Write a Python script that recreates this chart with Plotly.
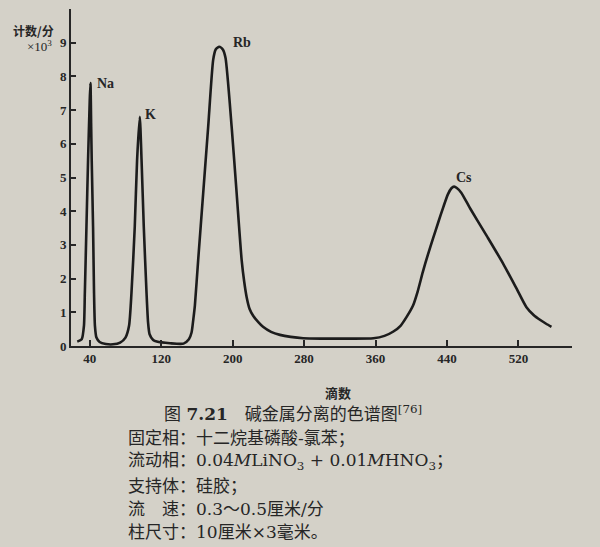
import plotly.graph_objects as go

# Elution curve: drop number vs. count rate (x10^3 counts/min)
drops = [26, 31, 33.5, 34.5, 36.3, 38.1, 40, 40.8, 41.6, 42.2, 43.7, 44.8, 45.8, 47.5, 51, 58, 66, 74,
         80, 84, 86.7, 90.4, 93, 96, 98, 100.5, 103.6, 105.3, 107, 111, 115, 130, 145, 151, 154,
         156, 157.7, 161.4, 167, 172.6, 178.2, 181, 185, 189, 192, 198.9, 204.5, 210.1, 213,
         215.7, 219, 223, 229, 234, 243, 253, 265, 279, 300, 330, 357.6, 370, 380, 388, 395,
         402, 407, 413, 418.5, 424.5, 430, 436, 441, 445, 448, 451, 456, 466, 484.7,
         503, 518, 529, 537, 544.5, 551, 557]
counts = [0.13, 0.2, 0.6, 1.57, 3.54, 5.52, 7.3, 7.8, 6.5, 5.5, 3.54, 1.57, 0.6, 0.25, 0.12, 0.06, 0.05, 0.1,
          0.25, 0.6, 1.57, 3.54, 5.52, 6.8, 5.52, 3.54, 1.56, 0.7, 0.35, 0.18, 0.13, 0.08, 0.07, 0.2, 0.4,
          0.8, 1.2, 2.55, 4.53, 6.5, 8.49, 8.8, 8.88, 8.8, 8.55, 6.5, 4.53, 2.55, 1.9,
          1.45, 1.1, 0.9, 0.7, 0.57, 0.42, 0.33, 0.27, 0.23, 0.22, 0.22, 0.23, 0.3, 0.43, 0.6, 0.87,
          1.2, 1.6, 2.2, 2.7, 3.2, 3.65, 4.13, 4.5, 4.68, 4.73, 4.69, 4.55, 4.08, 3.26,
          2.44, 1.7, 1.15, 0.92, 0.77, 0.66, 0.57]

peak_names = ["Na", "K", "Rb", "Cs"]
peak_drops = [40.8, 96, 185, 448]
peak_counts = [7.8, 6.8, 8.88, 4.73]

x_ticks = [40, 120, 200, 280, 360, 440, 520]
y_ticks = [0, 1, 2, 3, 4, 5, 6, 7, 8, 9]

caption_title = "图 <b>7.21</b>\u2003碱金属分离的色谱图<sup>[76]</sup>"
caption_lines = [
    "固定相：十二烷基磷酸-氯苯；",
    "流动相：0.04<i>M</i>LiNO<sub>3</sub> + 0.01<i>M</i>HNO<sub>3</sub>；",
    "支持体：硅胶；",
    "流\u3000速：0.3～0.5厘米/分",
    "柱尺寸：10厘米×3毫米。",
]

W, H = 600, 547
ML, MR, MT, MB = 71, 28, 9, 201
PW, PH = W - ML - MR, H - MT - MB

INK = "#262626"
PAPER = "#d4d1c8"
SERIF = "Liberation Serif, Noto Sans CJK SC, serif"
BODY = "DejaVu Serif, Noto Sans CJK SC, serif"
CJK = "Noto Sans CJK SC, sans-serif"


def px(x):
    return (x - ML) / PW


def py(y):
    return (H - MB - y) / PH


fig = go.Figure()
fig.add_trace(go.Scatter(
    x=drops, y=counts, mode="lines",
    line=dict(color="#1c1c1c", width=2.6, shape="spline", smoothing=0.6),
    hoverinfo="skip", showlegend=False,
))

annotations = []
shifts = {"Na": ("left", 5, 0), "K": ("left", 3, 2), "Rb": ("left", 12, 4), "Cs": ("center", 10, 9)}
for name, xv, yv in zip(peak_names, peak_drops, peak_counts):
    anchor, dx, dy = shifts[name]
    annotations.append(dict(
        x=xv, y=yv, xref="x", yref="y", text=name, showarrow=False,
        xanchor=anchor, yanchor="middle", xshift=dx, yshift=dy,
        font=dict(family=SERIF, size=14, color=INK, weight="bold"),
    ))

# axis titles
annotations.append(dict(x=px(56), y=py(30), xref="paper", yref="paper", text="计数/分",
                        showarrow=False, xanchor="right", yanchor="middle",
                        font=dict(family=CJK, size=12, color=INK, weight="bold")))
annotations.append(dict(x=px(54), y=py(46), xref="paper", yref="paper", text="×10<sup>3</sup>",
                        showarrow=False, xanchor="right", yanchor="middle",
                        font=dict(family=SERIF, size=13, color=INK)))
annotations.append(dict(x=px(338), y=py(392), xref="paper", yref="paper", text="滴数",
                        showarrow=False, xanchor="center", yanchor="middle",
                        font=dict(family=CJK, size=13, color=INK, weight="bold")))

# caption block
annotations.append(dict(x=px(162), y=py(413), xref="paper", yref="paper", text=caption_title,
                        showarrow=False, xanchor="left", yanchor="middle",
                        font=dict(family=BODY, size=17, color=INK)))
line_y = [438, 462, 486, 509, 532]
for line, yy in zip(caption_lines, line_y):
    annotations.append(dict(x=px(126), y=py(yy), xref="paper", yref="paper", text=line,
                            showarrow=False, xanchor="left", yanchor="middle",
                            font=dict(family=BODY, size=17, color=INK)))

fig.update_layout(
    width=W, height=H,
    margin=dict(l=ML, r=MR, t=MT, b=MB, pad=0),
    paper_bgcolor=PAPER, plot_bgcolor=PAPER,
    annotations=annotations,
    xaxis=dict(
        range=[19, 580], tickvals=x_ticks, ticktext=[str(v) for v in x_ticks],
        showgrid=False, zeroline=False, showline=True, linecolor=INK, linewidth=1.6,
        ticks="inside", ticklen=6, tickwidth=1.5, tickcolor=INK,
        tickfont=dict(family=SERIF, size=13, color=INK, weight="bold"),
    ),
    yaxis=dict(
        range=[0, 10], tickvals=y_ticks, ticktext=[str(v) for v in y_ticks],
        showgrid=False, zeroline=False, showline=True, linecolor=INK, linewidth=2,
        ticks="inside", ticklen=5, tickwidth=1.5, tickcolor=INK,
        tickfont=dict(family=SERIF, size=13, color=INK, weight="bold"),
    ),
)

fig.write_html("out.html")
